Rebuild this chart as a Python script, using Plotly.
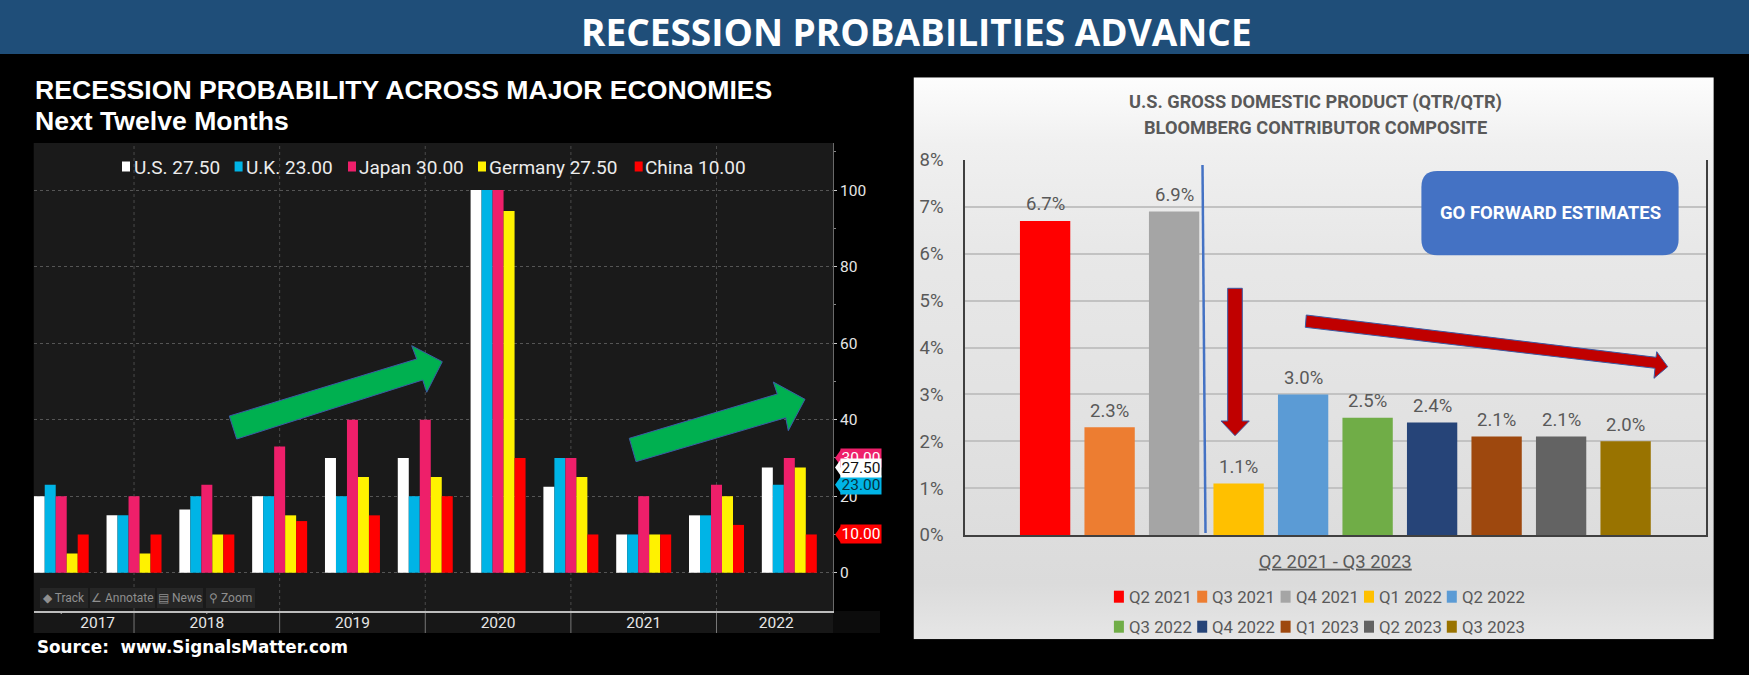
import base64
import plotly.graph_objects as go

# ---------- data ----------
periods = list(range(11))
us      = [20, 15, 16.5, 20, 30, 30, 100, 22.5, 10, 15, 27.5]
uk      = [23, 15, 20, 20, 20, 20, 100, 30, 10, 15, 23]
japan   = [20, 20, 23, 33, 40, 40, 100, 30, 20, 23, 30]
germany = [5, 5, 10, 15, 25, 25, 94.5, 25, 10, 20, 27.5]
china   = [10, 10, 10, 13.5, 15, 20, 30, 10, 10, 12.5, 10]
series_names = ["U.S.", "U.K.", "Japan", "Germany", "China"]
series_values = [us, uk, japan, germany, china]
series_colors = ["#ffffff", "#00b4e6", "#ee1f6a", "#fff200", "#ff0000"]
year_labels = ["2017", "2018", "2019", "2020", "2021", "2022"]
year_positions = [0.5, 2, 4, 6, 8, 9.82]

quarters = ["Q2 2021", "Q3 2021", "Q4 2021", "Q1 2022", "Q2 2022",
            "Q3 2022", "Q4 2022", "Q1 2023", "Q2 2023", "Q3 2023"]
gdp = [6.7, 2.3, 6.9, 1.1, 3.0, 2.5, 2.4, 2.1, 2.1, 2.0]
gdp_colors = ["#ff0000", "#ed7d31", "#a5a5a5", "#ffc000", "#5b9bd5",
              "#70ad47", "#264478", "#9e480e", "#636363", "#997300"]

W, H = 1749, 675
NARROW = "Roboto, sans-serif"
SANS = "Liberation Sans, Arial, sans-serif"
VERD = "DejaVu Sans, Verdana, sans-serif"
def X(p): return p / W
def Y(p): return 1 - p / H

shapes, annots = [], []

def rect(x0, y0, x1, y1, color, layer="below"):
    shapes.append(dict(type="rect", xref="paper", yref="paper", x0=X(x0), x1=X(x1),
                       y0=Y(y1), y1=Y(y0), fillcolor=color, line_width=0, layer=layer))

def poly(points, color, line="#3b5ba5", layer="above"):
    path = "M" + " L".join(f"{X(a):.5f},{Y(b):.5f}" for a, b in points) + " Z"
    shapes.append(dict(type="path", xref="paper", yref="paper", path=path,
                       fillcolor=color, line=dict(color=line, width=1), layer=layer))

def text(x, y, s, size, color, font=NARROW, anchor="left", **kw):
    annots.append(dict(xref="paper", yref="paper", x=X(x), y=Y(y), text=s, showarrow=False,
                       xanchor=anchor, yanchor="middle",
                       font=dict(size=size, color=color, family=font), **kw))

# ---------- header ----------
rect(0, 0, W, 54, "#1f4e79")
text(916, 31, "<b>RECESSION PROBABILITIES ADVANCE</b>", 37, "#ffffff", "Open Sans, sans-serif", "center")

# ---------- left panel ----------
rect(33.7, 143, 833, 611, "#1a1a1a")
rect(33.7, 611, 833, 633, "#171717")
rect(833, 611, 880, 633, "#0c0c0c")
text(33, 90, "<b>RECESSION PROBABILITY ACROSS MAJOR ECONOMIES</b>", 26.6, "#ffffff", SANS)
text(33, 121, "<b>Next Twelve Months</b>", 26.6, "#ffffff", SANS)
text(34.5, 647, "<b>Source:  www.SignalsMatter.com</b>", 16.8, "#ffffff", VERD)

# separators
for sx in [1, 3, 5, 7, 9]:
    shapes.append(dict(type="line", xref="x", yref="paper", x0=sx, x1=sx, y0=Y(611), y1=Y(143),
                       line=dict(color="#4a4a4a", width=1, dash="dot"), layer="below"))
    shapes.append(dict(type="line", xref="x", yref="paper", x0=sx, x1=sx, y0=Y(633), y1=Y(611),
                       line=dict(color="#777777", width=1), layer="below"))
for sx in [0, 2, 4, 6, 8, 10]:
    shapes.append(dict(type="line", xref="x", yref="paper", x0=sx, x1=sx, y0=Y(614), y1=Y(611),
                       line=dict(color="#bbbbbb", width=1), layer="below"))

# legend (left)
leg_sq = [122, 234.6, 348, 478, 634.7]
leg_tx = [131.5, 244, 357, 487, 643]
for i, n in enumerate(series_names):
    rect(leg_sq[i], 161.5, leg_sq[i] + 8, 171.5, series_colors[i], "above")
    text(leg_tx[i], 167, f"{n} {series_values[i][-1]:.2f}", 19, "#ececec")

# toolbar
for x0, x1, s in [(40, 88, "◆ Track"), (90, 155, "∠ Annotate"), (157, 203, "▤ News"), (206, 255, "⚲ Zoom")]:
    rect(x0, 588, x1, 608, "#262626", "above")
    text((x0 + x1) / 2, 598, s, 12, "#8f8f8f", anchor="center")

# last-value tags
for i in [2, 1, 4, 0]:
    v = series_values[i][-1]
    c = series_colors[i]
    shapes.append(dict(type="path", xref="paper", yref="y",
                       path=f"M{X(835):.5f},{v} L{X(841):.5f},{v + 2.2} L{X(841):.5f},{v - 2.2} Z",
                       fillcolor=c, line_width=0, layer="above"))
    fc = {0: "#111111", 1: "#06323f"}.get(i, "#ffffff")
    annots.append(dict(xref="paper", yref="y", x=X(840), y=v, text=f"{v:.2f}", showarrow=False,
                       xanchor="left", yanchor="middle", width=38, height=16, align="center",
                       bgcolor=c, font=dict(size=15.5, color=fc, family=NARROW)))

# green arrows
poly([(229.3, 416), (416.7, 359), (411.7, 345.7), (442.3, 361.7), (426.7, 392.3), (422.7, 380), (236.7, 439)], "#00b050")
poly([(629.3, 438.3), (777.3, 394), (773.3, 382), (805, 399.3), (788.3, 430.7), (785.7, 417.7), (636, 461.7)], "#00b050")

# ---------- right panel ----------
top, bot = 77.3, 639.3
gradient_svg = ("<svg xmlns='http://www.w3.org/2000/svg' width='10' height='10' preserveAspectRatio='none'>"
    "<defs><linearGradient id='g' x1='0' y1='0' x2='0' y2='1'>"
    "<stop offset='0' stop-color='#fdfdfd'/><stop offset='0.12' stop-color='#f0f0f0'/>"
    "<stop offset='0.3' stop-color='#e8e8e8'/><stop offset='0.6' stop-color='#e2e2e2'/>"
    "<stop offset='0.9' stop-color='#dbdbdb'/><stop offset='1' stop-color='#e6e6e6'/>"
    "</linearGradient></defs><rect width='10' height='10' fill='url(#g)'/></svg>")
images = [dict(source="data:image/svg+xml;base64," + base64.b64encode(gradient_svg.encode()).decode(),
               xref="paper", yref="paper", x=X(913.5), y=Y(top), sizex=X(1713.8) - X(913.5),
               sizey=(bot - top) / H, sizing="stretch", xanchor="left", yanchor="top", layer="below")]

text(1315.8, 102, "<b>U.S. GROSS DOMESTIC PRODUCT (QTR/QTR)</b>", 18.2, "#595959", anchor="center")
text(1315.8, 127, "<b>BLOOMBERG CONTRIBUTOR COMPOSITE</b>", 18.2, "#595959", anchor="center")

# blue divider
shapes.append(dict(type="line", xref="paper", yref="paper", x0=X(1202.5), x1=X(1205.5), y0=Y(165), y1=Y(533),
                   line=dict(color="#4472c4", width=2.5), layer="above"))

# rounded box
bx0, bx1, by0, by1, r = 1421.4, 1678.6, 171, 255.3, 16
rx, ry = r / W, r / H
shapes.append(dict(type="path", xref="paper", yref="paper", fillcolor="#4472c4", line_width=0, layer="above",
    path=(f"M{X(bx0)+rx},{Y(by0)} L{X(bx1)-rx},{Y(by0)} Q{X(bx1)},{Y(by0)} {X(bx1)},{Y(by0)-ry} "
          f"L{X(bx1)},{Y(by1)+ry} Q{X(bx1)},{Y(by1)} {X(bx1)-rx},{Y(by1)} "
          f"L{X(bx0)+rx},{Y(by1)} Q{X(bx0)},{Y(by1)} {X(bx0)},{Y(by1)+ry} "
          f"L{X(bx0)},{Y(by0)-ry} Q{X(bx0)},{Y(by0)} {X(bx0)+rx},{Y(by0)} Z")))
text(1550, 213, "<b>GO FORWARD ESTIMATES</b>", 18.5, "#ffffff", anchor="center")

# red arrows
poly([(1227.7, 288.3), (1242.3, 288.3), (1242.3, 421), (1249.3, 421), (1235, 435.7), (1221, 421), (1227.7, 421)], "#c00000")
poly([(1306.3, 315), (1656, 357.3), (1656.7, 351.7), (1667.7, 366.7), (1654, 378.3), (1655, 368.3), (1305.3, 327.3)], "#c00000")

# legend (right)
rsq = [1113.9, 1197.2, 1280.6, 1364, 1446.8]
for i, q in enumerate(quarters):
    row, col = divmod(i, 5)
    yc = 596.7 + 30 * row
    rect(rsq[col], yc - 6, rsq[col] + 10, yc + 6, gdp_colors[i], "above")
    text(rsq[col] + 13, yc, q, 16.8, "#595959")

# value labels above the bars
for q, v in zip(quarters, gdp):
    annots.append(dict(xref="x2", yref="y2", x=q, y=v, yshift=16.5, text=f"{v:.1f}%", showarrow=False,
                       xanchor="center", yanchor="middle",
                       font=dict(size=18.5, color="#595959", family=NARROW)))

# ---------- traces ----------
fig = go.Figure()
for n, v, c in zip(series_names, series_values, series_colors):
    fig.add_trace(go.Bar(x=periods, y=v, name=n, marker=dict(color=c, line_width=0),
                         xaxis="x", yaxis="y", showlegend=False))
fig.add_trace(go.Bar(x=quarters, y=gdp, marker=dict(color=gdp_colors, line_width=0),
                     width=0.78, xaxis="x2", yaxis="y2", showlegend=False))

fig.update_layout(
    width=W, height=H, margin=dict(l=0, r=0, t=0, b=0, autoexpand=False),
    paper_bgcolor="#000000", plot_bgcolor="rgba(0,0,0,0)",
    barmode="group", bargap=0.245, bargroupgap=0,
    shapes=shapes, annotations=annots, images=images, showlegend=False,
    xaxis=dict(domain=[X(33.7), X(833)], range=[-0.378, 10.6], anchor="y",
               tickvals=year_positions, ticktext=year_labels, ticks="", showgrid=False, zeroline=False,
               showline=True, linecolor="#bdbdbd", linewidth=1.5,
               tickfont=dict(size=15.5, color="#e6e6e6", family=NARROW), ticklabelstandoff=-3),
    yaxis=dict(domain=[Y(611), Y(143)], range=[-10, 112.3], anchor="x", side="right",
               tickvals=[0, 20, 40, 60, 80, 100], gridcolor="#555555", griddash="dot", gridwidth=1,
               zeroline=False, showline=True, linecolor="#6a6a6a", linewidth=1,
               ticks="outside", ticklen=3, tickcolor="#cccccc",
               minor=dict(tickvals=[10, 30, 50, 70, 90, 110], ticks="outside", ticklen=2, tickcolor="#888888"),
               tickfont=dict(size=15.5, color="#e6e6e6", family=NARROW)),
    xaxis2=dict(domain=[X(965), X(1705.6)], range=[-1.242, 10.24], anchor="y2", type="category",
                categoryorder="array", categoryarray=quarters,
                showticklabels=False, ticks="", showgrid=False, zeroline=False,
                showline=True, linecolor="#404040", linewidth=1.5,
                title=dict(text="<u>Q2 2021 - Q3 2023</u>", standoff=19,
                           font=dict(size=18.5, color="#595959", family=NARROW))),
    yaxis2=dict(domain=[Y(535), Y(160)], range=[0, 8], anchor="x2",
                tickvals=[0, 1, 2, 3, 4, 5, 6, 7, 8], ticktext=[f"{i}%" for i in range(9)],
                gridcolor="#c2c2c2", gridwidth=1.5, zeroline=False, ticks="", ticklabelstandoff=16,
                showline=True, linecolor="#404040", linewidth=1.5, mirror=True,
                tickfont=dict(size=18.5, color="#595959", family=NARROW)),
)

fig.write_html("out.html", config={"displayModeBar": False},
               post_script="document.body.style.margin='0';")
